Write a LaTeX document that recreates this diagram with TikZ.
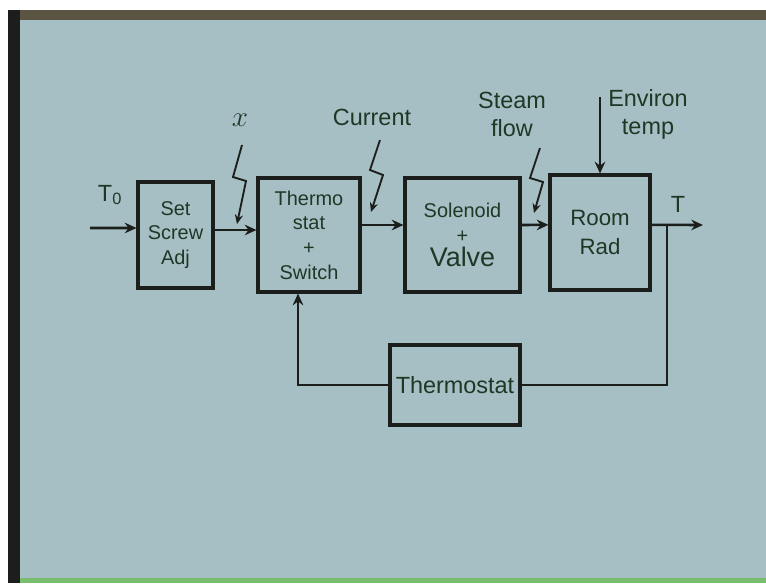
\documentclass[tikz,border=0pt]{standalone}
\usepackage{fontspec}
\setmainfont{Liberation Sans}
\usetikzlibrary{arrows.meta,positioning}
\definecolor{board}{RGB}{166,191,196}
\definecolor{chalk}{RGB}{30,56,38}
\definecolor{ink}{RGB}{28,30,28}
\definecolor{rim}{RGB}{92,84,66}
\definecolor{sill}{RGB}{120,190,110}

\begin{document}
\begin{tikzpicture}[x=0.03cm,y=-0.03cm,
  blk/.style={draw=ink,line width=2.6pt,align=center,text=chalk,
              font=\fontsize{17}{21}\selectfont,inner sep=2pt},
  arr/.style={-{Stealth[length=10pt,width=9pt]},line width=2.2pt,draw=ink},
  wire/.style={line width=2.2pt,draw=ink},
  bolt/.style={-{Stealth[length=8pt,width=7pt]},line width=1.6pt,draw=ink,line join=miter},
  lbl/.style={text=chalk,font=\fontsize{20}{24}\selectfont,align=center,inner sep=1pt}
]
\useasboundingbox (0,0) rectangle (766,583);
% board and frame
\fill[white] (0,0) rectangle (766,583);
\fill[board] (20,20) rectangle (766,578);
\fill[rim] (8,10) rectangle (766,20);
\fill[ink] (8,10) rectangle (20,583);
\fill[sill] (20,578) rectangle (766,583);

% blocks
\node[blk,minimum width=2.25cm,minimum height=3.18cm] (set) at (175.5,235) {Set\\Screw\\Adj};
\node[blk,minimum width=3.06cm,minimum height=3.42cm] (thermo) at (309,235) {Thermo\\stat\\+\\Switch};
\node[blk,minimum width=3.45cm,minimum height=3.42cm] (valve) at (462.5,235)
  {Solenoid\\+\\{\fontsize{23}{25}\selectfont Valve}};
\node[blk,minimum width=3.0cm,minimum height=3.45cm,font=\fontsize{19}{24}\selectfont] (room) at (600,232.5) {Room\\Rad};
\node[blk,minimum width=3.9cm,minimum height=2.4cm,font=\fontsize{20}{24}\selectfont] (sensor) at (455,385) {Thermostat};

% free ends
\coordinate (tin) at (90,228);
\coordinate (tout) at (703,225);
\coordinate (tap) at (667,225);
\coordinate (env) at (600,97);

% forward path
\draw[arr] (tin) -- ([yshift=0.21cm]set.west);
\draw[arr] ([yshift=0.15cm]set.east) -- ([yshift=0.15cm]thermo.west);
\draw[arr] ([yshift=0.3cm]thermo.east) -- ([yshift=0.3cm]valve.west);
\draw[arr] ([yshift=0.3cm]valve.east) -- ([yshift=0.23cm]room.west);
\draw[arr] ([yshift=0.23cm]room.east) -- (tout);
\draw[arr] (env) -- (room.north);

% feedback
\draw[wire] (tap) |- (sensor.east);
\draw[arr] (sensor.west) -| ([xshift=-0.33cm]thermo.south);

% disturbance bolts
\coordinate (xb) at (242,145);
\coordinate (cb) at (380,140);
\coordinate (sb) at (540,148);
\draw[bolt] (xb) -- (233,177) -- (246,181) -- (237,224);
\draw[bolt] (cb) -- (370,170) -- (383,175) -- (371,212);
\draw[bolt] (sb) -- (530,178) -- (543,182) -- (534,213);

% labels
\node[lbl] (lt0) at (110,195) {T\textsubscript{0}};
\node[lbl] (lx) at (240,120) {\fontsize{24}{24}\selectfont$x$};
\node[lbl] (lcur) at (372,117) {Current};
\node[lbl] (lsteam) at (512,114) {Steam\\flow};
\node[lbl] (lenv) at (648,114) {Environ\\temp};
\node[lbl] (lt) at (678,204) {T};
\end{tikzpicture}
\end{document}
